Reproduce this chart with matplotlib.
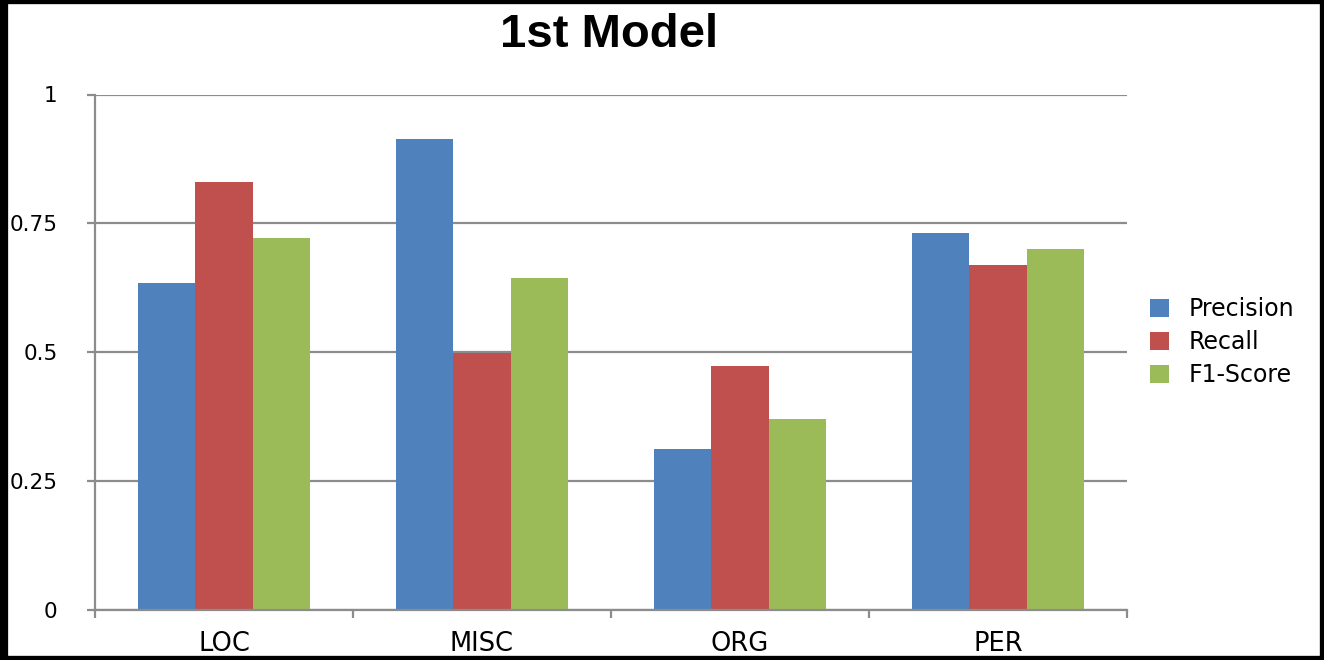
import matplotlib
matplotlib.use("Agg")
import matplotlib.pyplot as plt
from matplotlib.patches import Rectangle
from matplotlib.lines import Line2D
import numpy as np

plt.rcParams['font.family'] = ['DejaVu Sans']

categories = ["LOC", "MISC", "ORG", "PER"]
precision = [0.634, 0.914, 0.312, 0.731]
recall = [0.830, 0.499, 0.473, 0.669]
f1_score = [0.721, 0.644, 0.370, 0.700]
series_names = ["Precision", "Recall", "F1-Score"]
series_colors = ["#4F81BD", "#C0504D", "#9BBB59"]
y_ticks = [0, 0.25, 0.5, 0.75, 1]
y_tick_labels = ["0", "0.25", "0.5", "0.75", "1"]

W, H = 1324, 660
fig = plt.figure(figsize=(W / 100, H / 100), dpi=100)
ax = fig.add_axes([95 / W, (H - 609.5) / H, (1127 - 95) / W, (609.5 - 94.5) / H])

grid_color = "#8C8C8C"
x = np.arange(len(categories))
width = 0.222
for i, (vals, name, color) in enumerate(zip([precision, recall, f1_score], series_names, series_colors)):
    ax.bar(x + (i - 1) * width, vals, width, color=color, label=name, zorder=3)

ax.set_xlim(-0.5, len(categories) - 0.5)
ax.set_ylim(0, 1)

ax.set_yticks(y_ticks)
ax.set_yticklabels(y_tick_labels)
ax.yaxis.grid(True, color=grid_color, linewidth=1.6, zorder=1)
ax.tick_params(axis='y', direction='out', length=6, width=1.6, color=grid_color,
               pad=21, labelsize=15.5)

ax.set_xticks(x)
ax.set_xticklabels(categories)
ax.set_xticks(np.arange(len(categories) + 1) - 0.5, minor=True)
ax.tick_params(axis='x', which='major', length=0, pad=15.5, labelsize=18.5)
ax.tick_params(axis='x', which='minor', direction='out', length=6, width=1.6, color=grid_color)

for side in ("top", "right"):
    ax.spines[side].set_visible(False)
for side in ("left", "bottom"):
    ax.spines[side].set_color(grid_color)
    ax.spines[side].set_linewidth(1.6)
    ax.spines[side].set_zorder(4)

fig.text(609 / W, (H - 35) / H, "1st Model", ha='center', va='center',
         fontsize=34, fontweight='bold', family=['Liberation Sans', 'DejaVu Sans'])

fig.legend(loc='center left', bbox_to_anchor=(1141 / W, (H - 342) / H),
           frameon=False, fontsize=17, handlelength=0.8, handleheight=0.8,
           handletextpad=0.8, labelspacing=0.38, borderaxespad=0)

# black frame around the whole figure, heavier on the left edge
fig.add_artist(Rectangle((0, 0), 1, 1, transform=fig.transFigure, fill=False,
                         edgecolor='black', linewidth=6))
fig.add_artist(Line2D([0, 0], [0, 1], transform=fig.transFigure,
                      color='black', linewidth=11))

fig.savefig("out.png", dpi=100)
